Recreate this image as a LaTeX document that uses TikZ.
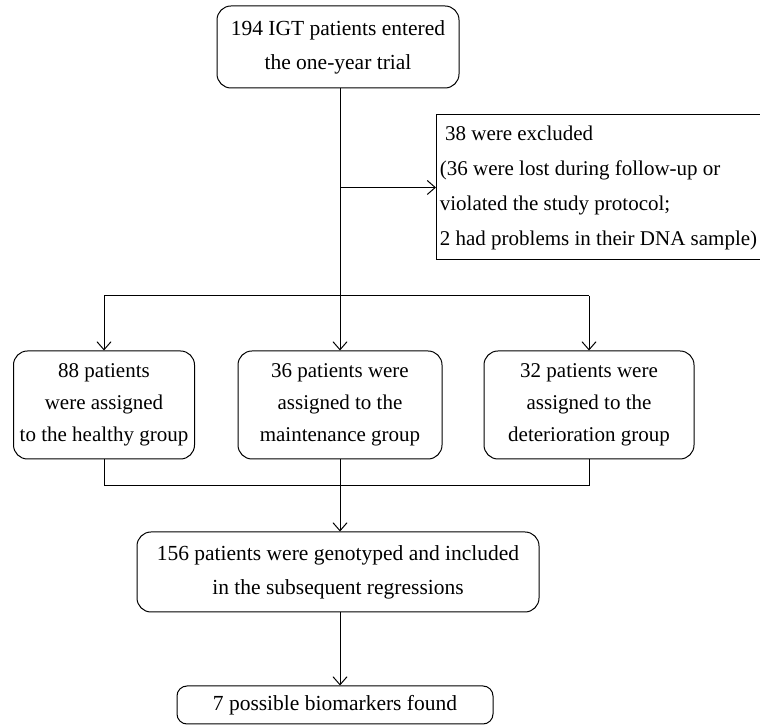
\documentclass[tikz,border=0pt]{standalone}
\usepackage{fontspec}
\setmainfont{Liberation Serif}
\usetikzlibrary{arrows.meta,positioning,calc}

\begin{document}
\begin{tikzpicture}[x=1pt, y=1pt,
    box/.style={draw, rounded corners=14pt, line width=1pt, align=center,
        inner sep=0pt, font=\fontsize{21.5}{34}\selectfont},
    groupbox/.style={box, font=\fontsize{21}{32}\selectfont},
    sidebox/.style={draw, line width=1pt, align=left, inner xsep=2pt, inner ysep=0pt,
        font=\fontsize{21}{35}\selectfont},
    arr/.style={-{Straight Barb[length=8pt, width=14pt]}, line width=1pt}]
    \useasboundingbox (0, 0) rectangle (760, 725);

    % start and exclusion
    \node[box, minimum width=242, minimum height=82] (start) at (338, 678)
        {194 IGT patients entered\\the one-year trial};
    \node[sidebox, minimum width=324, minimum height=145, anchor=west] (excluded) at (436, 537.5)
        {\ 38 were excluded\\(36 were lost during follow-up or\\violated the study protocol;\\2 had problems in their DNA sample)};

    % three groups
    \node[groupbox, minimum width=181, minimum height=108] (healthy) at (104, 320)
        {88 patients\\were assigned\\to the healthy group};
    \node[groupbox, minimum width=204, minimum height=108] (maintain) at (340, 320)
        {36 patients were\\assigned to the\\maintenance group};
    \node[groupbox, minimum width=210, minimum height=108] (deterior) at (589, 320)
        {32 patients were\\assigned to the\\deterioration group};

    % genotyped and result
    \node[box, minimum width=402, minimum height=80] (genotyped) at (338, 153)
        {156 patients were genotyped and included\\in the subsequent regressions};
    \node[box, rounded corners=10pt, minimum width=316, minimum height=38] (markers) at (335, 20)
        {7 possible biomarkers found};

    % connectors
    \coordinate (split) at (340, 429);
    \coordinate (join) at (340, 239);
    \draw[line width=1pt] (start.south -| split) -- (split);
    \draw[arr] (split |- excluded.west) -- (excluded.west);
    \draw[line width=1pt] (healthy.north |- split) -- (deterior.north |- split);
    \draw[arr] (healthy.north |- split) -- (healthy.north);
    \draw[arr] (split) -- (maintain.north);
    \draw[arr] (deterior.north |- split) -- (deterior.north);
    \draw[line width=1pt] (healthy.south) -- (healthy.south |- join) -- (deterior.south |- join) -- (deterior.south);
    \draw[line width=1pt] (maintain.south) -- (join);
    \draw[arr] (join) -- (genotyped.north -| join);
    \draw[arr] (genotyped.south -| join) -- (markers.north -| join);
\end{tikzpicture}
\end{document}
